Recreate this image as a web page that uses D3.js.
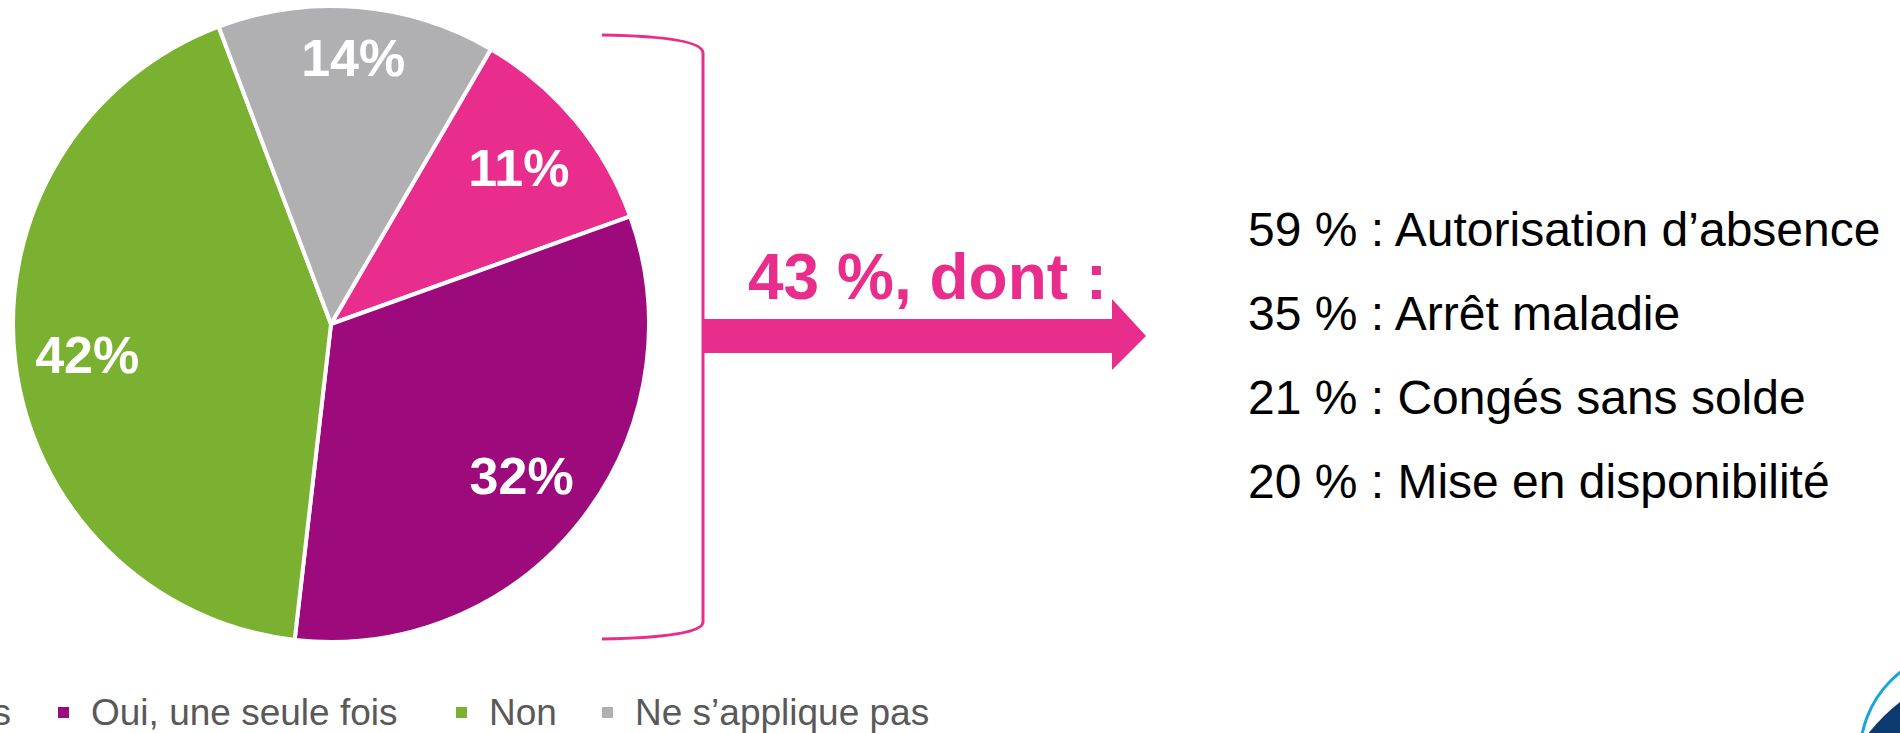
<!DOCTYPE html>
<html lang="fr">
<head>
<meta charset="utf-8">
<title>Absences</title>
<script src="https://cdn.jsdelivr.net/npm/d3@7"></script>
<style>
  html, body { margin: 0; padding: 0; background: #ffffff; }
  svg { display: block; }
</style>
</head>
<body>
<div id="chart"></div>
<script>
// Answer categories of the pie and their shares (%)
const categories = ["Oui, plusieurs fois", "Oui, une seule fois", "Non", "Ne s’applique pas"];
const shares = [11, 32, 42, 14];
const sliceColors = ["#E92D8C", "#9D0A7B", "#7AB131", "#B0B0B2"];

// "Oui" answers (first two categories) and how they were covered
const subtotalLabel = "43 %, dont :";
const breakdownValues = [59, 35, 21, 20];
const breakdownLabels = ["Autorisation d’absence", "Arrêt maladie", "Congés sans solde", "Mise en disponibilité"];

const W = 1900, H = 733;
const FONT = "'Liberation Sans', Arial, Helvetica, sans-serif";

const svg = d3.select("#chart").append("svg")
  .attr("width", W).attr("height", H)
  .attr("viewBox", `0 0 ${W} ${H}`);

// ---- Pie ----
const cx = 331, cy = 324, R = 318;
const rotation = 30.2 * Math.PI / 180;

const pie = d3.pie()
  .value(d => d.value)
  .sort(null)
  .startAngle(rotation)
  .endAngle(rotation + 2 * Math.PI);

const data = categories.map((c, i) => ({ name: c, value: shares[i], color: sliceColors[i] }));
const arcs = pie(data);

const arc = d3.arc().innerRadius(0).outerRadius(R);

const gPie = svg.append("g").attr("transform", `translate(${cx},${cy})`);

gPie.selectAll("path.slice")
  .data(arcs)
  .join("path")
  .attr("class", "slice")
  .attr("d", arc)
  .attr("fill", d => d.data.color)
  .attr("stroke", "#ffffff")
  .attr("stroke-width", 4)
  .attr("stroke-linejoin", "round");

// Labels placed "inside end": the label box is pushed outwards along the
// slice bisector until its farthest corner reaches the inner limit radius.
const labelFontSize = 52;
const innerLimit = 309;
const labels = gPie.selectAll("text.pct")
  .data(arcs)
  .join("text")
  .attr("class", "pct")
  .attr("text-anchor", "middle")
  .attr("dy", "0.36em")
  .attr("font-family", FONT)
  .attr("font-weight", "bold")
  .attr("font-size", labelFontSize)
  .attr("fill", "#ffffff")
  .text(d => `${d.data.value}%`);

labels.attr("transform", function(d) {
  const a = (d.startAngle + d.endAngle) / 2;
  const ux = Math.sin(a), uy = -Math.cos(a);
  const w = this.getComputedTextLength() + 14;
  const h = labelFontSize * 1.2;
  const b = Math.abs(ux) * w + Math.abs(uy) * h;
  const c = (w * w + h * h) / 4 - innerLimit * innerLimit;
  const r = (-b + Math.sqrt(b * b - 4 * c)) / 2;
  return `translate(${r * ux},${r * uy})`;
});

// ---- Bracket grouping the two "Oui" slices ----
const accent = sliceColors[0];
svg.append("path")
  .attr("d", "M602,35 C662,36 703,41 703,53 L703,622 C703,633 662,638 602,639")
  .attr("fill", "none")
  .attr("stroke", accent)
  .attr("stroke-width", 3);

// ---- Arrow towards the breakdown ----
const ax0 = 703, ax1 = 1112, axTip = 1146;
const ay0 = 319, ay1 = 353, ahTop = 299, ahBot = 370;
svg.append("path")
  .attr("d", `M${ax0},${ay0} L${ax1},${ay0} L${ax1},${ahTop} L${axTip},${(ay0 + ay1) / 2} L${ax1},${ahBot} L${ax1},${ay1} L${ax0},${ay1} Z`)
  .attr("fill", accent);

svg.append("text")
  .attr("x", 748).attr("y", 299)
  .attr("font-family", FONT)
  .attr("font-weight", "bold")
  .attr("font-size", 64)
  .attr("fill", accent)
  .text(subtotalLabel);

// ---- Breakdown list ----
const listY = d3.scalePoint()
  .domain(d3.range(breakdownValues.length))
  .range([246, 498]);

svg.append("g").selectAll("text")
  .data(breakdownValues)
  .join("text")
  .attr("x", 1248)
  .attr("y", (d, i) => listY(i))
  .attr("font-family", FONT)
  .attr("font-size", 48)
  .attr("fill", "#000000")
  .text((d, i) => `${d} % : ${breakdownLabels[i]}`);

// ---- Legend (runs off the left edge, as in the slide) ----
const legendSquareX = [-316, 58, 456, 602];
const gLeg = svg.append("g");
const legendY = 712;
categories.forEach((c, i) => {
  gLeg.append("rect")
    .attr("x", legendSquareX[i]).attr("y", legendY - 5)
    .attr("width", 11).attr("height", 11)
    .attr("fill", sliceColors[i]);
  gLeg.append("text")
    .attr("x", legendSquareX[i] + 33).attr("y", legendY)
    .attr("dy", "0.35em")
    .attr("font-family", FONT)
    .attr("font-size", 37)
    .attr("fill", "#595959")
    .text(c);
});

// ---- Corner emblem ----
const clip = svg.append("defs").append("clipPath").attr("id", "emblem-clip");
clip.append("circle").attr("cx", 1965).attr("cy", 755).attr("r", 104);
svg.append("path")
  .attr("d", "M1900,702 Q1882,716 1867,735 L1910,735 L1910,700 Z")
  .attr("fill", "#0D3A6E")
  .attr("clip-path", "url(#emblem-clip)");
svg.append("circle")
  .attr("cx", 1965).attr("cy", 755).attr("r", 105)
  .attr("fill", "none")
  .attr("stroke", "#1BA3E0")
  .attr("stroke-width", 3);
</script>
</body>
</html>
